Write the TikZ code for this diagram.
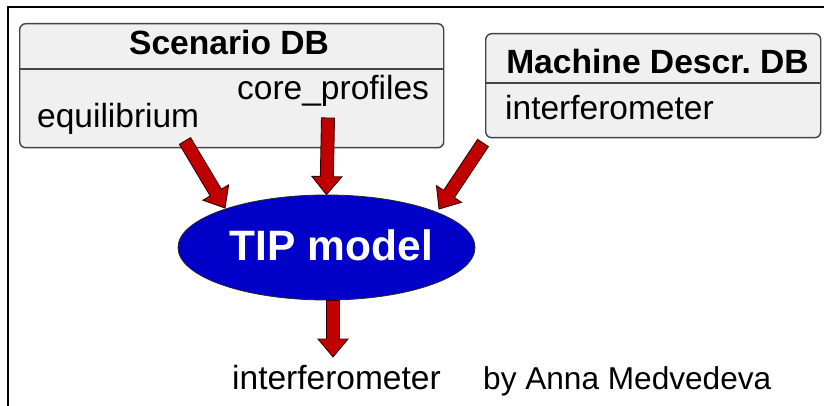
\documentclass[tikz,border=0pt]{standalone}
\usepackage{fontspec}
\setmainfont{Liberation Sans}
\usetikzlibrary{calc,shapes.geometric}
\frenchspacing

\definecolor{boxfill}{HTML}{F0F0F0}
\definecolor{boxline}{HTML}{444444}
\definecolor{arrowred}{HTML}{C00000}
\definecolor{arrowedge}{HTML}{3A0000}
\definecolor{modelblue}{HTML}{0000C8}

\tikzset{
  dbbox/.style={draw=boxline, fill=boxfill, line width=1.4pt, rounded corners=6pt,
    inner sep=0pt, anchor=north west},
  lbl/.style={inner sep=0pt, anchor=base west, font=\fontsize{33.5}{40}\selectfont},
  ttl/.style={inner sep=0pt, anchor=base, font=\fontsize{33.6}{40}\selectfont\bfseries},
  blockarr/.style={fill=arrowred, draw=arrowedge, line width=0.9pt, line join=miter},
}

% filled block arrow between two named points
\newcommand\blockarrow[2]{%
  \path ($(#2)!18pt!(#1)$) coordinate (hb);
  \draw[blockarr] ($(#1)!6.5pt!90:(#2)$) -- ($(hb)!6.5pt!90:(#2)$)
    -- ($(hb)!15pt!90:(#2)$) -- (#2) -- ($(hb)!15pt!-90:(#2)$)
    -- ($(hb)!6.5pt!-90:(#2)$) -- ($(#1)!6.5pt!-90:(#2)$) -- cycle;}

\begin{document}
\begin{tikzpicture}[x=1pt, y=-1pt]
  \useasboundingbox (0,0) rectangle (824,406);

  % outer frame (top and left edges)
  \draw[line width=2pt] (7.5,406) -- (7.5,7.5) -- (824,7.5);

  % Scenario DB box
  \node[dbbox, minimum width=424pt, minimum height=124pt] (scen) at (19,23) {};
  \draw[boxline, line width=1.4pt] (19,69) -- (443,69);
  \node[ttl] (scentitle) at (229,55) {Scenario DB};
  \node[lbl] (core) at (237,100) {core\_profiles};
  \node[lbl] (equil) at (37,128) {equilibrium};

  % Machine description box
  \node[dbbox, minimum width=335pt, minimum height=104pt] (mach) at (485,33) {};
  \draw[boxline, line width=1.4pt] (485,83) -- (820,83);
  \node[ttl] (machtitle) at (657.5,74) {Machine Descr. DB};
  \node[lbl] (machif) at (505,120) {interferometer};

  % model
  \node[ellipse, draw=black!85, line width=0.8pt, fill=modelblue, inner sep=0pt,
        minimum width=297pt, minimum height=105pt] (tip) at (326.5,247.5) {};
  \node[inner sep=0pt, anchor=base, text=white,
        font=\fontsize{42.5}{48}\selectfont\bfseries] (tiplbl) at (331.5,260) {TIP model};

  % arrow end points
  \coordinate (eqout) at (185,141);
  \coordinate (coreout) at (328,118);
  \coordinate (machout) at (483,143);
  \coordinate (lefttip) at (225,208);
  \coordinate (righttip) at (439,209);
  \coordinate (outtip) at (333,357);

  \blockarrow{eqout}{lefttip}
  \blockarrow{coreout}{tip.north}
  \blockarrow{machout}{righttip}
  \blockarrow{tip.south -| outtip}{outtip}

  % output and credit
  \node[lbl] (outif) at (232,389) {interferometer};
  \node[lbl, font=\fontsize{31.6}{38}\selectfont] (credit) at (483,389) {by Anna Medvedeva};
\end{tikzpicture}
\end{document}
